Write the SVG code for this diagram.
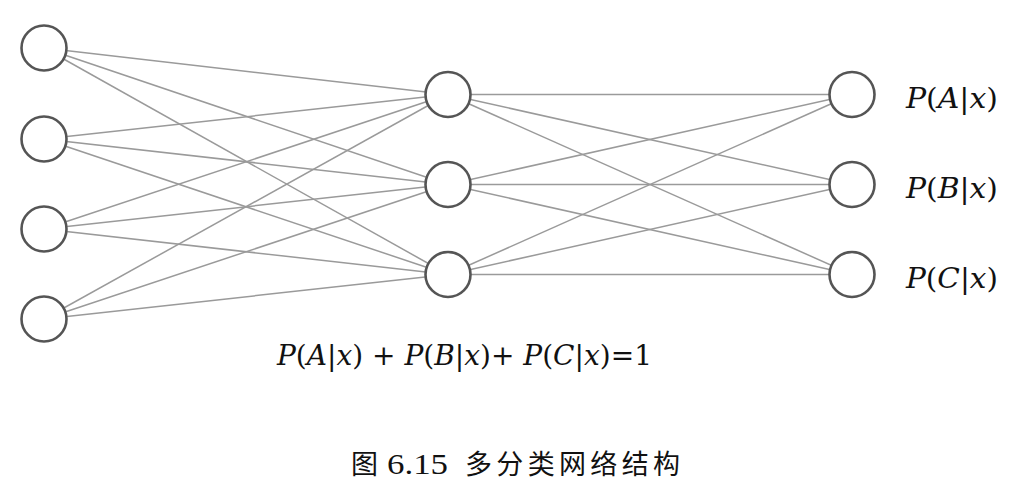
<svg xmlns="http://www.w3.org/2000/svg" width="1016" height="500" viewBox="0 0 1016 500">
<style>
.edge{stroke:#9a9a9a;stroke-width:1.5;fill:none}
.node{fill:#fff;stroke:#555;stroke-width:2.6}
.lbl{font-family:"DejaVu Serif","Liberation Serif",serif;font-size:28px;fill:#111}
.it{font-style:italic}
.cjk{font-family:"Noto Sans CJK SC","Noto Sans",sans-serif;font-size:27px;fill:#111}
.num{font-family:"Liberation Serif",serif;font-size:30px;fill:#111}
</style>
<rect width="1016" height="500" fill="#fff"/>
<g id="connectors">
<line class="edge" x1="44" y1="48" x2="448" y2="94.5"/>
<line class="edge" x1="44" y1="48" x2="448" y2="184.5"/>
<line class="edge" x1="44" y1="48" x2="448" y2="274.5"/>
<line class="edge" x1="44" y1="139" x2="448" y2="94.5"/>
<line class="edge" x1="44" y1="139" x2="448" y2="184.5"/>
<line class="edge" x1="44" y1="139" x2="448" y2="274.5"/>
<line class="edge" x1="44" y1="229" x2="448" y2="94.5"/>
<line class="edge" x1="44" y1="229" x2="448" y2="184.5"/>
<line class="edge" x1="44" y1="229" x2="448" y2="274.5"/>
<line class="edge" x1="44" y1="319" x2="448" y2="94.5"/>
<line class="edge" x1="44" y1="319" x2="448" y2="184.5"/>
<line class="edge" x1="44" y1="319" x2="448" y2="274.5"/>
<line class="edge" x1="448" y1="94.5" x2="852" y2="94.5"/>
<line class="edge" x1="448" y1="94.5" x2="852" y2="184.5"/>
<line class="edge" x1="448" y1="94.5" x2="852" y2="274.5"/>
<line class="edge" x1="448" y1="184.5" x2="852" y2="94.5"/>
<line class="edge" x1="448" y1="184.5" x2="852" y2="184.5"/>
<line class="edge" x1="448" y1="184.5" x2="852" y2="274.5"/>
<line class="edge" x1="448" y1="274.5" x2="852" y2="94.5"/>
<line class="edge" x1="448" y1="274.5" x2="852" y2="184.5"/>
<line class="edge" x1="448" y1="274.5" x2="852" y2="274.5"/>
</g>
<g id="in1"><circle class="node" cx="44" cy="48" r="22.5"/></g>
<g id="in2"><circle class="node" cx="44" cy="139" r="22.5"/></g>
<g id="in3"><circle class="node" cx="44" cy="229" r="22.5"/></g>
<g id="in4"><circle class="node" cx="44" cy="319" r="22.5"/></g>
<g id="h1"><circle class="node" cx="448" cy="94.5" r="22.5"/></g>
<g id="h2"><circle class="node" cx="448" cy="184.5" r="22.5"/></g>
<g id="h3"><circle class="node" cx="448" cy="274.5" r="22.5"/></g>
<g id="outA"><circle class="node" cx="852" cy="94.5" r="22.5"/>
<text class="lbl" x="906" y="108" textLength="92" lengthAdjust="spacingAndGlyphs"><tspan class="it">P</tspan>(<tspan class="it">A</tspan>|<tspan class="it">x</tspan>)</text></g>
<g id="outB"><circle class="node" cx="852" cy="184.5" r="22.5"/>
<text class="lbl" x="906" y="198" textLength="92" lengthAdjust="spacingAndGlyphs"><tspan class="it">P</tspan>(<tspan class="it">B</tspan>|<tspan class="it">x</tspan>)</text></g>
<g id="outC"><circle class="node" cx="852" cy="274.5" r="22.5"/>
<text class="lbl" x="906" y="288" textLength="92" lengthAdjust="spacingAndGlyphs"><tspan class="it">P</tspan>(<tspan class="it">C</tspan>|<tspan class="it">x</tspan>)</text></g>
<text class="lbl" x="277" y="365" textLength="375" lengthAdjust="spacingAndGlyphs"><tspan class="it">P</tspan>(<tspan class="it">A</tspan>|<tspan class="it">x</tspan>) + <tspan class="it">P</tspan>(<tspan class="it">B</tspan>|<tspan class="it">x</tspan>)+ <tspan class="it">P</tspan>(<tspan class="it">C</tspan>|<tspan class="it">x</tspan>)=1</text>
<g id="caption">
<text class="cjk" x="351" y="474">图</text>
<text class="num" x="387" y="474" textLength="61" lengthAdjust="spacingAndGlyphs">6.15</text>
<text class="cjk" x="465" y="474" textLength="215" lengthAdjust="spacing">多分类网络结构</text>
</g>
</svg>
